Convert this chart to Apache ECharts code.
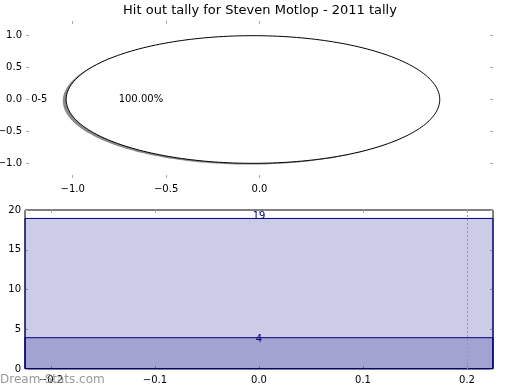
<!DOCTYPE html>
<html>
<head>
<meta charset="utf-8">
<script src="https://cdn.jsdelivr.net/npm/echarts/dist/echarts.min.js"></script>
<style>html,body{margin:0;padding:0;background:#fff;}#c{width:520px;height:390px;}</style>
</head>
<body>
<div id="c"></div>
<script>
// ---- data ----
const titleText = 'Hit out tally for Steven Motlop - 2011 tally';
const pieCategories = ['0-5'];
const pieValues = [19];
const pieCenter = [-0.035, 0];
const pieXTicks = [-1.0, -0.5, 0.0];
const pieYTicks = [-1.0, -0.5, 0.0, 0.5, 1.0];
const barCategories = ['0-5'];
const barValues = [19, 4];
const barXTicks = [-0.2, -0.1, 0.0, 0.1, 0.2];
const barYTicks = [0, 5, 10, 15, 20];
const refLineX = [0.2];
const watermark = 'Dream-Stats.com';

// ---- helpers ----
const FONT = 'DejaVu Sans';
const fmt = v => (v < 0 ? '\u2212' : '') + Math.abs(v).toFixed(1);
const tickGrey = '#aaaaaa';

const total = pieValues.reduce((a, b) => a + b, 0);
const slices = [];
let acc = 0;
pieValues.forEach((v, i) => {
  const start = acc / total * 360;
  acc += v;
  const end = acc / total * 360;
  slices.push([start, end, v / total * 100, pieCategories[i]]);
});

function wedgePoints(api, cx, cy, r, a0, a1, dx, dy) {
  const pts = [];
  const full = (a1 - a0) >= 359.999;
  if (!full) pts.push(api.coord([cx + dx, cy + dy]));
  const n = 240;
  for (let k = 0; k <= n; k++) {
    const t = (a0 + (a1 - a0) * k / n) * Math.PI / 180;
    pts.push(api.coord([cx + dx + r * Math.cos(t), cy + dy + r * Math.sin(t)]));
  }
  return pts;
}

function pieRender(params, api) {
  const s = slices[params.dataIndex];
  const a0 = s[0], a1 = s[1];
  const mid = (a0 + a1) / 2 * Math.PI / 180;
  const cx = pieCenter[0], cy = pieCenter[1];
  const lp = api.coord([cx + 1.1 * Math.cos(mid), cy + 1.1 * Math.sin(mid)]);
  const pp = api.coord([cx + 0.6 * Math.cos(mid), cy + 0.6 * Math.sin(mid)]);
  return {
    type: 'group',
    children: [
      { type: 'polygon', shape: { points: wedgePoints(api, cx, cy, 1, a0, a1, -0.018, -0.02) },
        style: { fill: 'rgba(60,60,60,0.6)', stroke: 'none' } },
      { type: 'polygon', shape: { points: wedgePoints(api, cx, cy, 1, a0, a1, 0, 0) },
        style: { fill: '#ffffff', stroke: '#000000', lineWidth: 1 } },
      { type: 'text', x: lp[0], y: lp[1],
        style: { text: s[3], fill: '#000', font: '10px ' + FONT,
                 align: Math.cos(mid) < 0 ? 'right' : 'left', verticalAlign: 'middle' } },
      { type: 'text', x: pp[0], y: pp[1],
        style: { text: s[2].toFixed(2) + '%', fill: '#000', font: '10px ' + FONT,
                 align: 'center', verticalAlign: 'middle' } }
    ]
  };
}

const chart = echarts.init(document.getElementById('c'), null, { renderer: 'canvas' });

const hiddenLabel = { show: false };
const noLine = { show: false, onZero: false };
const tickIn = { show: true, inside: true, length: 3, lineStyle: { color: tickGrey, width: 1 } };
const labelStyle = { color: '#000', fontFamily: FONT, fontSize: 10 };

chart.setOption({
  animation: false,
  backgroundColor: '#ffffff',
  title: {
    text: titleText, left: 'center', top: -1,
    textStyle: { fontFamily: FONT, fontSize: 13, fontWeight: 'normal', color: '#000' }
  },
  graphic: [{
    type: 'text', left: 0, top: 374, z: 100,
    style: { text: watermark, fill: '#999999', font: '12px ' + FONT }
  }],
  grid: [
    { left: 26, top: 21, width: 467, height: 157, show: false, containLabel: false, outerBoundsMode: 'none' },
    { left: 25, top: 210, width: 468, height: 159, show: true, borderColor: '#000', borderWidth: 1,
      backgroundColor: 'transparent', containLabel: false, outerBoundsMode: 'none' }
  ],
  xAxis: [
    { type: 'value', gridIndex: 0, min: -1.25, max: 1.25, position: 'bottom',
      axisLine: noLine, splitLine: { show: false },
      axisTick: Object.assign({ customValues: pieXTicks }, tickIn),
      axisLabel: Object.assign({ customValues: pieXTicks, formatter: fmt, margin: 6 }, labelStyle) },
    { type: 'value', gridIndex: 0, min: -1.25, max: 1.25, position: 'top',
      axisLine: noLine, splitLine: { show: false },
      axisTick: Object.assign({ customValues: pieXTicks }, tickIn),
      axisLabel: hiddenLabel },
    { type: 'value', gridIndex: 1, min: -0.225, max: 0.225, position: 'bottom',
      axisLine: noLine, splitLine: { show: false },
      axisTick: Object.assign({ customValues: barXTicks }, tickIn),
      axisLabel: Object.assign({ customValues: barXTicks, formatter: fmt, margin: 6 }, labelStyle) },
    { type: 'value', gridIndex: 1, min: -0.225, max: 0.225, position: 'top',
      axisLine: noLine, splitLine: { show: false },
      axisTick: Object.assign({ customValues: barXTicks }, tickIn),
      axisLabel: hiddenLabel },
    { type: 'category', gridIndex: 1, data: barCategories, show: false, boundaryGap: true }
  ],
  yAxis: [
    { type: 'value', gridIndex: 0, min: -1.23, max: 1.23, position: 'left',
      axisLine: noLine, splitLine: { show: false },
      axisTick: Object.assign({ customValues: pieYTicks }, tickIn),
      axisLabel: Object.assign({ customValues: pieYTicks, formatter: fmt, margin: 4 }, labelStyle) },
    { type: 'value', gridIndex: 0, min: -1.23, max: 1.23, position: 'right',
      axisLine: noLine, splitLine: { show: false },
      axisTick: Object.assign({ customValues: pieYTicks }, tickIn),
      axisLabel: hiddenLabel },
    { type: 'value', gridIndex: 1, min: 0, max: 20, position: 'left',
      axisLine: noLine, splitLine: { show: false },
      axisTick: Object.assign({ customValues: barYTicks }, tickIn),
      axisLabel: Object.assign({ customValues: barYTicks, margin: 4 }, labelStyle) },
    { type: 'value', gridIndex: 1, min: 0, max: 20, position: 'right',
      axisLine: noLine, splitLine: { show: false },
      axisTick: Object.assign({ customValues: barYTicks }, tickIn),
      axisLabel: hiddenLabel }
  ],
  series: [
    { type: 'custom', xAxisIndex: 0, yAxisIndex: 0, renderItem: pieRender,
      data: slices.map((s, i) => [i]), clip: false, silent: true },
    { type: 'bar', xAxisIndex: 4, yAxisIndex: 2, barWidth: '120%', barGap: '-100%', clip: true,
      data: [{ value: barValues[0], label: { distance: -3 } }],
      itemStyle: { color: 'rgba(0,0,128,0.2)', borderColor: '#000080', borderWidth: 1 },
      label: { show: true, position: 'top', color: '#000080', fontFamily: FONT, fontSize: 10 } },
    { type: 'bar', xAxisIndex: 4, yAxisIndex: 2, barWidth: '120%', barGap: '-100%', clip: true,
      data: [{ value: barValues[1], label: { distance: -7 } }],
      itemStyle: { color: 'rgba(0,0,128,0.2)', borderColor: '#000080', borderWidth: 1 },
      label: { show: true, position: 'top', color: '#000080', fontFamily: FONT, fontSize: 10 } },
    { type: 'line', xAxisIndex: 2, yAxisIndex: 2, data: [], symbol: 'none',
      markLine: { silent: true, symbol: 'none', label: { show: false },
        lineStyle: { color: '#999999', type: [2, 2], width: 1 },
        data: refLineX.map(v => ({ xAxis: v })) } }
  ]
});
</script>
</body>
</html>
